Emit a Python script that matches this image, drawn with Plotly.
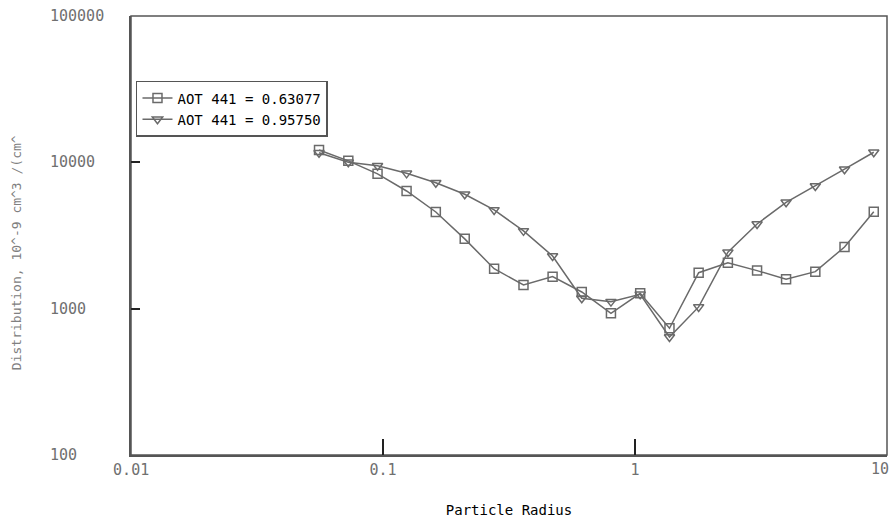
import math
import plotly.graph_objects as go

# Data
radius = [0.0557, 0.0728, 0.0951, 0.124, 0.162, 0.211, 0.276, 0.361, 0.471, 0.615,
          0.803, 1.049, 1.371, 1.790, 2.338, 3.053, 3.98, 5.20, 6.79, 8.87]
dist_063 = [12150, 10240, 8340, 6370, 4580, 3000, 1875, 1452, 1655, 1300,
            930, 1274, 735, 1762, 2060, 1820, 1588, 1790, 2640, 4600]
dist_096 = [11640, 10000, 9480, 8410, 7260, 6050, 4730, 3400, 2290, 1178,
            1117, 1254, 640, 1028, 2430, 3790, 5330, 6900, 8980, 11720]
series_names = ["AOT 441 = 0.63077", "AOT 441 = 0.95750"]
x_tickvals = [0.01, 0.1, 1, 10]
x_ticktext = ["0.01", "0.1", "1", "10"]
y_tickvals = [100, 1000, 10000, 100000]
y_ticktext = ["100", "1000", "10000", "100000"]

MONO = "DejaVu Sans Mono"
LINE_C = "#6a6a6a"
FRAME_C = "#555555"
TICK_FONT = dict(family=MONO, size=15, color="#707070")

fig = go.Figure()
fig.add_trace(go.Scatter(
    x=radius, y=dist_063, name=series_names[0], mode="lines+markers",
    line=dict(color=LINE_C, width=1.5),
    marker=dict(symbol="square-open", size=9, color=LINE_C, line=dict(width=1.5, color=LINE_C)),
))
fig.add_trace(go.Scatter(
    x=radius, y=dist_096, name=series_names[1], mode="lines+markers",
    line=dict(color=LINE_C, width=1.5),
    marker=dict(symbol="triangle-down-open", size=9, color=LINE_C, line=dict(width=1.5, color=LINE_C)),
))

# left-aligned y tick labels, placed through the y axis scale
for v, t in zip(y_tickvals, y_ticktext):
    fig.add_annotation(x=-0.1096, xref="paper", y=math.log10(v), yref="y",
                       text=t, showarrow=False, xanchor="left", yanchor="middle",
                       font=TICK_FONT)

# last x tick label kept inside the page edge
x_axis_labels = list(x_ticktext)
last_label = x_axis_labels[-1]
x_axis_labels[-1] = ""
fig.add_annotation(x=math.log10(x_tickvals[-1]), xref="x", y=0, yref="paper",
                   text=last_label, showarrow=False, xanchor="right", yanchor="top",
                   xshift=4, yshift=-3, font=TICK_FONT)

fig.add_annotation(x=-0.152, xref="paper", y=0.46, yref="paper",
                   text="Distribution, 10^-9 cm^3 /(cm^", textangle=-90, showarrow=False,
                   xanchor="center", yanchor="middle",
                   font=dict(family=MONO, size=13, color="#808080"))

# thin plot frame (top/right), axes lines drawn on left/bottom
fig.add_shape(type="rect", xref="paper", yref="paper", x0=0, x1=1, y0=0, y1=1,
              line=dict(color=FRAME_C, width=1.5), layer="below")

fig.update_layout(
    width=892, height=518,
    margin=dict(l=131, r=5, t=16, b=63),
    paper_bgcolor="white", plot_bgcolor="white",
    showlegend=True,
    legend=dict(x=0.0066, y=0.852, xanchor="left", yanchor="top",
                bgcolor="white", bordercolor=FRAME_C, borderwidth=1.5,
                font=dict(family=MONO, size=14, color="black"),
                tracegroupgap=0, itemwidth=30),
    xaxis=dict(type="log", range=[-2.0005, 1.0005], tickvals=x_tickvals, ticktext=x_axis_labels,
               ticks="inside", ticklen=16, tickwidth=2, tickcolor="#222",
               automargin=False,
               showline=True, mirror=False, linecolor=FRAME_C, linewidth=2,
               showgrid=False, zeroline=False,
               tickfont=TICK_FONT,
               title=dict(text="Particle Radius", standoff=27,
                          font=dict(family=MONO, size=14, color="black"))),
    yaxis=dict(type="log", range=[2, 5], tickvals=y_tickvals, showticklabels=False,
               ticks="inside", ticklen=9, tickwidth=2, tickcolor="#222",
               automargin=False,
               showline=True, mirror=False, linecolor=FRAME_C, linewidth=2,
               showgrid=False, zeroline=False),
)

fig.write_html("out.html")
